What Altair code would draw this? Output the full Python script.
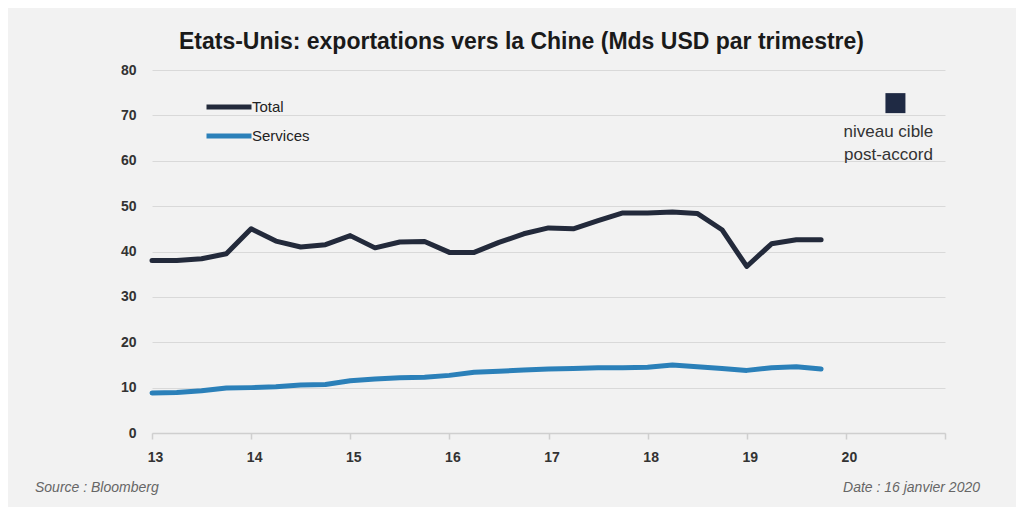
import altair as alt
import pandas as pd

# ---- data ----
years = [13, 14, 15, 16, 17, 18, 19]
quarters = [1, 2, 3, 4]
total = [38.0, 38.0, 38.4, 39.5,
         45.0, 42.3, 41.0, 41.5,
         43.5, 40.8, 42.1, 42.2,
         39.8, 39.8, 42.0, 43.9,
         45.2, 45.0, 46.8, 48.5,
         48.5, 48.7, 48.4, 44.8,
         36.7, 41.7, 42.6, 42.6]
services = [8.8, 8.9, 9.3, 9.9,
            10.0, 10.2, 10.6, 10.7,
            11.5, 11.9, 12.2, 12.3,
            12.7, 13.4, 13.6, 13.9,
            14.1, 14.2, 14.4, 14.4,
            14.5, 15.0, 14.6, 14.2,
            13.8, 14.4, 14.6, 14.1]
series_names = ["Total", "Services"]
series_colors = ["#232a3b", "#2b80b9"]
target_x = [20.5]
target_y = [72.7]
target_label = ["niveau cible", "post-accord"]
x_ticks = [13, 14, 15, 16, 17, 18, 19, 20, 21]
y_ticks = [0, 10, 20, 30, 40, 50, 60, 70, 80]

periods = [y + (q - 1) / 4 for y in years for q in quarters]
rows = []
for p, t, s in zip(periods, total, services):
    rows.append({"t": p, "serie": "Total", "v": t})
    rows.append({"t": p, "serie": "Services", "v": s})
df = pd.DataFrame(rows)
df_target = pd.DataFrame({"t": target_x, "v": target_y})

W, H = 793, 363
FONT = "Liberation Sans"

xscale = alt.Scale(domain=[13, 21], nice=False, zero=False)
yscale = alt.Scale(domain=[0, 80], nice=False)

lines = alt.Chart(df).mark_line(strokeWidth=5, strokeCap="round", strokeJoin="round").encode(
    x=alt.X("t:Q", scale=xscale, title=None,
            axis=alt.Axis(values=x_ticks, format="d", labelExpr="datum.value == 21 ? '' : datum.label",
                          grid=False, domain=True, domainColor="#cfcfcf", domainWidth=1.5,
                          ticks=True, tickColor="#cfcfcf", tickSize=6, tickWidth=1.5,
                          labelFont=FONT, labelFontSize=14, labelFontWeight="bold",
                          labelColor="#333333", labelPadding=11, labelAlign="center",
                          labelOffset=3)),
    y=alt.Y("v:Q", scale=yscale, title=None,
            axis=alt.Axis(values=y_ticks, grid=True, gridColor="#d9d9d9", gridWidth=1.2,
                          domain=False, ticks=False,
                          labelFont=FONT, labelFontSize=14, labelFontWeight="bold",
                          labelColor="#333333", labelPadding=16)),
    color=alt.Color("serie:N", scale=alt.Scale(domain=series_names, range=series_colors),
                    sort=series_names,
                    legend=alt.Legend(title=None, orient="none", legendX=67, legendY=27,
                                      symbolType="M-3,0H3", symbolSize=225, symbolStrokeWidth=5,
                                      labelFont=FONT, labelFontSize=15, labelColor="#222222",
                                      rowPadding=9, labelOffset=13)),
    detail="serie:N",
)

square = alt.Chart(df_target).mark_square(size=400, color="#1f2a44", opacity=1, filled=True).encode(
    x=alt.X("t:Q", scale=xscale), y=alt.Y("v:Q", scale=yscale))

label = alt.Chart(df_target).mark_text(font=FONT, fontSize=17, color="#333333", baseline="top",
                                       align="center", dy=21, lineHeight=23, dx=-7).encode(
    x=alt.X("t:Q", scale=xscale), y=alt.Y("v:Q", scale=yscale),
    text=alt.value(target_label))

src = alt.Chart(df_target).mark_text(font=FONT, fontSize=14, fontStyle="italic", color="#666666",
                                     align="left", baseline="middle").encode(
    x=alt.value(-117), y=alt.value(418), text=alt.value("Source : Bloomberg"))
date = alt.Chart(df_target).mark_text(font=FONT, fontSize=14, fontStyle="italic", color="#666666",
                                      align="right", baseline="middle").encode(
    x=alt.value(828), y=alt.value(418), text=alt.value("Date : 16 janvier 2020"))

chart = alt.layer(lines, square, label, src, date).properties(
    width=W, height=H,
    title=alt.TitleParams("Etats-Unis: exportations vers la Chine (Mds USD par trimestre)",
                          font=FONT, fontSize=23, fontWeight="bold", color="#1a1a1a",
                          anchor="middle", offset=9, dx=-27),
    autosize=alt.AutoSizeParams(type="none"),
    padding={"left": 144, "top": 62, "right": 71, "bottom": 74},
    background="#f2f2f2",
).configure_view(stroke=None)

chart.save("out.html", embed_options={"renderer": "svg", "actions": False})
